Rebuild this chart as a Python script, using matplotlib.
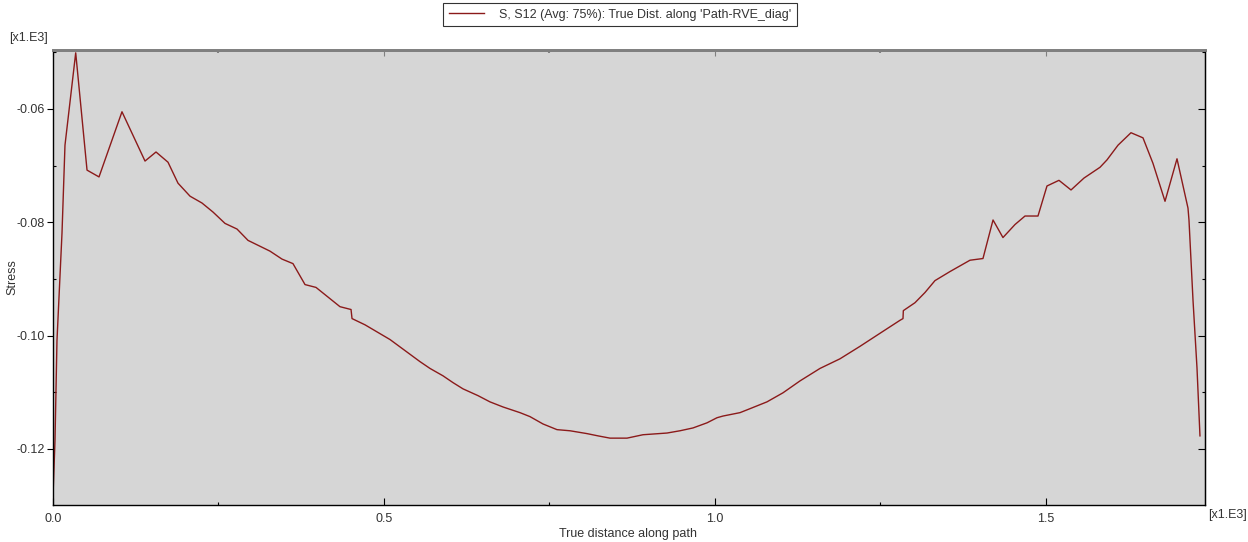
import matplotlib
matplotlib.use("Agg")
import matplotlib.pyplot as plt
from matplotlib.ticker import MultipleLocator, FormatStrFormatter

plt.rcParams['font.family'] = ['Liberation Sans', 'DejaVu Sans']

# True distance along path [x1.E3]
distance = [0.0, 0.003, 0.006, 0.0136, 0.0181, 0.0343, 0.0514, 0.0695, 0.1042, 0.139,
            0.1556, 0.1737, 0.1888, 0.207, 0.225, 0.2417, 0.2598, 0.278, 0.2946, 0.3278,
            0.3459, 0.3625, 0.3807, 0.3973, 0.4335, 0.4502, 0.4517, 0.4713, 0.5091, 0.5544,
            0.5695, 0.5891, 0.6042, 0.6193, 0.642, 0.6601, 0.6798, 0.7054, 0.7205, 0.7402,
            0.7613, 0.781, 0.8066, 0.8233, 0.8414, 0.8671, 0.8912, 0.9275, 0.9471, 0.9668,
            0.9879, 1.003, 1.0121, 1.0378, 1.0529, 1.0785, 1.1027, 1.1284, 1.1586, 1.1888,
            1.219, 1.2492, 1.2795, 1.284, 1.2845, 1.3021, 1.3172, 1.3323, 1.355, 1.3852,
            1.4048, 1.42, 1.435, 1.4532, 1.4683, 1.4879, 1.5015, 1.5196, 1.5378, 1.5574,
            1.5816, 1.5921, 1.6088, 1.6284, 1.6465, 1.6616, 1.6798, 1.6979, 1.7145, 1.716,
            1.7221, 1.7281, 1.7326]
# Stress S12 [x1.E3]
stress = [-0.1283, -0.1186, -0.1009, -0.0819, -0.0664, -0.0501, -0.0708, -0.0720, -0.0605, -0.0692,
          -0.0676, -0.0694, -0.0731, -0.0754, -0.0766, -0.0782, -0.0802, -0.0812, -0.0832, -0.0851,
          -0.0865, -0.0873, -0.0910, -0.0915, -0.0949, -0.0954, -0.0970, -0.0981, -0.1007, -0.1046,
          -0.1058, -0.1071, -0.1083, -0.1094, -0.1106, -0.1117, -0.1126, -0.1136, -0.1143, -0.1156,
          -0.1166, -0.1168, -0.1173, -0.1177, -0.1181, -0.1181, -0.1175, -0.1172, -0.1168, -0.1163,
          -0.1154, -0.1145, -0.1142, -0.1136, -0.1129, -0.1117, -0.1101, -0.1080, -0.1058, -0.1041,
          -0.1019, -0.0996, -0.0973, -0.0970, -0.0956, -0.0942, -0.0924, -0.0903, -0.0887, -0.0867,
          -0.0864, -0.0796, -0.0827, -0.0804, -0.0789, -0.0789, -0.0736, -0.0726, -0.0743, -0.0722,
          -0.0703, -0.0690, -0.0664, -0.0642, -0.0651, -0.0696, -0.0763, -0.0688, -0.0775, -0.0796,
          -0.0938, -0.1057, -0.1177]

series_label = "S, S12 (Avg: 75%): True Dist. along 'Path-RVE_diag'"
xlabel = "True distance along path"
ylabel = "Stress"
scale_label = "[x1.E3]"

text_color = "#333333"
fig = plt.figure(figsize=(12.48, 5.42), dpi=100)
ax = fig.add_axes([53/1248, 1-505/542, (1205-53)/1248, (505-50)/542])
ax.set_facecolor("#d6d6d6")
line, = ax.plot(distance, stress, color="#8b1a1a", lw=1.0, label=series_label)

ax.set_xlim(0, 1.7402)
ax.set_ylim(-0.1299, -0.0496)

ax.xaxis.set_major_locator(MultipleLocator(0.5))
ax.xaxis.set_minor_locator(MultipleLocator(0.25))
ax.xaxis.set_major_formatter(FormatStrFormatter('%.1f'))
ax.yaxis.set_major_locator(MultipleLocator(0.02))
ax.yaxis.set_minor_locator(MultipleLocator(0.01))
ax.yaxis.set_major_formatter(FormatStrFormatter('%.2f'))

ax.tick_params(axis='x', which='major', direction='in', length=5, width=0.8,
               labelsize=9, labelcolor=text_color, pad=6, top=False)
ax.tick_params(axis='x', which='minor', direction='in', length=2, width=0.8, top=False)
ax.tick_params(axis='y', which='major', direction='out', length=4, width=0.8,
               labelsize=9, labelcolor=text_color, pad=2, right=False)
ax.tick_params(axis='y', which='minor', direction='in', length=2, width=0.8, right=False)

for s in ['left', 'bottom', 'right']:
    ax.spines[s].set_color('black')
    ax.spines[s].set_linewidth(1.0)
ax.spines['top'].set_color('#808080')
ax.spines['top'].set_linewidth(2.0)

# mirrored ticks on top and right
axr = ax.secondary_yaxis('right')
axr.yaxis.set_major_locator(MultipleLocator(0.02))
axr.yaxis.set_minor_locator(MultipleLocator(0.01))
axr.tick_params(which='major', direction='in', length=5, width=0.8, labelright=False)
axr.tick_params(which='minor', direction='in', length=2, width=0.8)
axr.spines['right'].set_color('black')
axt = ax.secondary_xaxis('top')
axt.xaxis.set_major_locator(MultipleLocator(0.5))
axt.xaxis.set_minor_locator(MultipleLocator(0.25))
axt.tick_params(which='major', direction='in', length=4, width=0.8, labeltop=False, color='#808080')
axt.tick_params(which='minor', direction='in', length=2, width=1.5, color='#808080')
axt.spines['top'].set_color('#808080')
axt.spines['top'].set_linewidth(2.0)

fig.text(628/1248, 1-534/542, xlabel, ha='center', va='center', fontsize=9, color=text_color)
fig.text(12/1248, 1-277/542, ylabel, ha='center', va='center', rotation=90, fontsize=9, color=text_color)
fig.text(9/1248, 1-38/542, scale_label, ha='left', va='center', fontsize=9, color=text_color)
fig.text(1208/1248, 1-515/542, scale_label, ha='left', va='center', fontsize=9, color=text_color)

leg = fig.legend(handles=[line], loc='upper center', bbox_to_anchor=(620/1248, 1-3/542),
                 fontsize=9, frameon=True, fancybox=False, handlelength=2.8,
                 borderpad=0.45, handletextpad=1.2, borderaxespad=0)
leg.get_frame().set_edgecolor('black')
leg.get_frame().set_linewidth(0.8)
for t in leg.get_texts():
    t.set_color(text_color)

fig.savefig("out.png", dpi=100)
